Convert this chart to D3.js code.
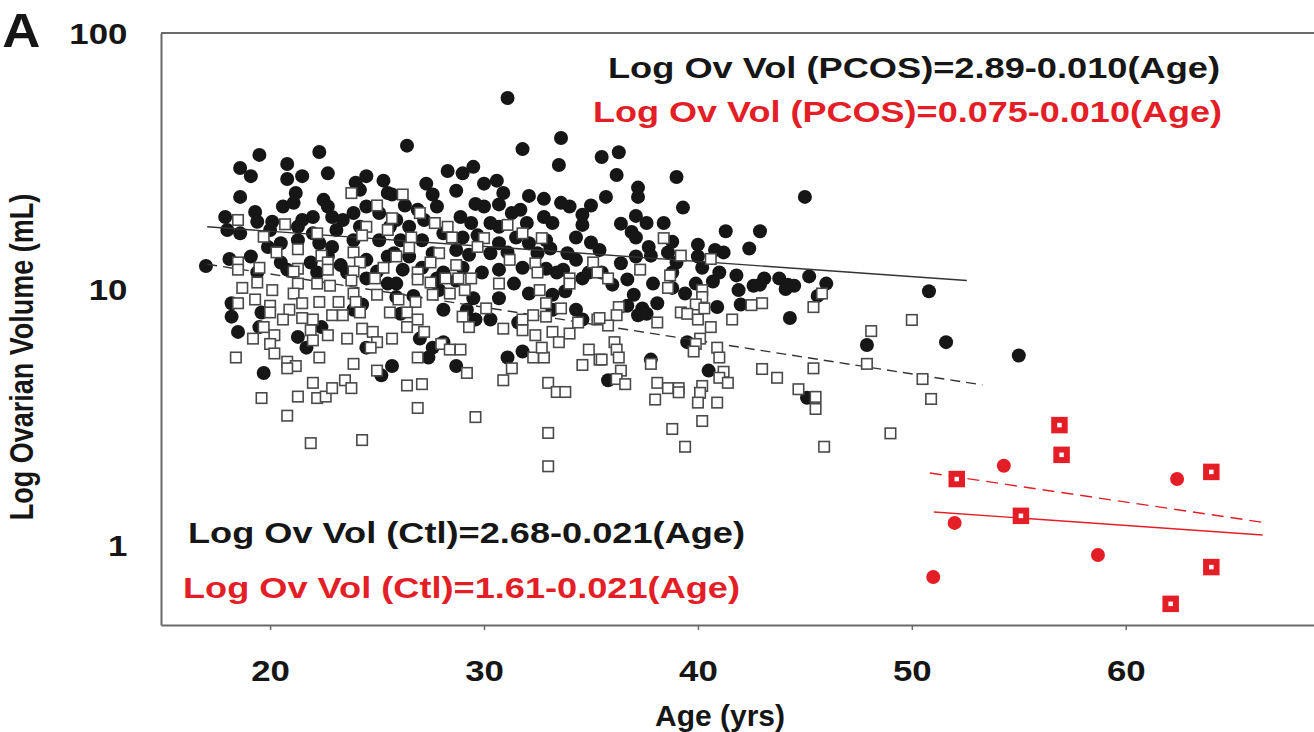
<!DOCTYPE html>
<html>
<head>
<meta charset="utf-8">
<script src="https://cdn.jsdelivr.net/npm/d3@7"></script>
<style>
  body { margin: 0; background: #fff; }
  svg { display: block; font-family: "Liberation Sans", Arial, sans-serif; font-weight: bold; }
</style>
</head>
<body>
<div id="chart"></div>
<script>
// ---- data: [age (yrs), ovarian volume (mL)] ----

// PCOS (filled circles)
var pcosPts = [
  [19.5,33.4],[22.3,34.3],[18.6,29.7],[19.1,27.6],[20.8,30.8],[20.8,26.9],[21.5,27.6],[22.7,28.3],[18.6,22.9],[21.2,23.7],
  [24.5,27.6],[25.3,26.5],[24.0,26.0],[24.2,24.4],[25.5,23.7],[22.5,22.3],[22.7,21.0],[20.6,21.0],[21.1,21.7],[19.3,20.0],
  [17.9,19.1],[19.4,18.3],[20.1,18.3],[21.5,18.6],[22.0,19.1],[22.9,19.1],[23.4,18.6],[23.9,19.8],[24.5,21.0],[25.1,19.8],
  [18.0,17.0],[18.6,16.5],[20.0,17.0],[21.3,17.5],[22.0,16.5],[23.1,17.0],[24.2,17.5],[25.6,17.5],[19.9,14.6],[20.5,15.1],
  [21.3,15.5],[22.3,15.1],[22.9,14.6],[23.9,15.5],[25.1,15.5],[17.0,12.3],[18.1,13.1],[19.1,13.4],[20.5,12.7],[21.9,12.7],
  [22.7,13.4],[23.3,12.4],[24.5,13.0],[25.5,13.4],[19.4,11.6],[20.8,11.9],[22.2,11.6],[23.6,11.6],[25.0,11.7],
  [24.5,11.0],[25.5,10.5],[25.9,9.3],[18.2,8.8],[18.2,7.8],[19.6,8.1],[18.5,6.8],[19.5,7.1],[21.3,6.5],[21.7,5.9],
  [22.4,7.1],[23.9,8.3],[24.3,8.7],[24.5,5.9],[19.7,4.7],[25.7,5.0],[25.2,4.6],[26.1,8.0],
  [31.1,55.7],[26.4,36.3],[31.8,35.2],[33.6,38.9],[33.5,30.5],[35.5,32.8],[28.3,28.9],[29.0,28.3],[29.5,30.0],[27.3,25.8],
  [27.6,23.4],[28.7,24.2],[30.0,25.8],[30.6,26.5],[30.9,23.7],[32.1,23.1],[32.8,22.5],[33.6,21.7],[34.0,21.0],[35.0,21.2],
  [35.7,22.9],[25.7,23.4],[26.3,21.2],[26.9,20.4],[27.8,21.0],[29.6,21.5],[30.0,21.0],[30.7,21.4],[31.3,19.8],[31.7,20.4],
  [34.6,19.5],[25.9,18.6],[26.5,17.5],[27.2,18.6],[28.9,19.1],[29.4,18.1],[30.3,18.1],[30.7,17.5],[32.0,18.1],[32.8,19.1],
  [33.2,18.1],[34.6,17.8],[35.0,15.2],[35.4,14.2],[26.1,15.5],[27.1,15.5],[28.1,16.5],[29.0,15.9],[29.7,16.2],[30.7,15.1],
  [31.5,15.9],[32.1,15.1],[32.9,15.5],[34.3,15.9],[25.8,13.8],[26.5,13.4],[27.6,13.8],[28.7,14.2],[29.3,13.6],[30.3,13.8],
  [31.1,13.9],[32.5,13.8],[33.1,14.4],[33.9,13.8],[34.3,13.0],[26.2,11.9],[27.1,12.1],[28.1,11.6],[29.0,12.1],[29.9,11.6],
  [30.7,11.9],[31.8,12.1],[32.9,12.0],[33.7,11.9],[34.9,11.6],
  [25.9,10.5],[27.8,11.0],[28.7,10.8],[31.4,10.5],[32.1,9.6],[33.2,9.5],[33.8,9.8],[34.6,11.0],[33.4,11.6],[26.7,9.4],
  [27.9,9.9],[29.5,9.2],[30.7,9.2],[28.1,8.3],[29.2,8.3],[29.6,7.6],[30.3,7.6],[31.6,7.4],[33.2,8.3],[34.3,8.3],
  [34.6,7.6],[27.0,6.4],[28.1,6.2],[27.6,5.9],[27.4,5.4],[28.7,5.0],[31.1,5.4],[31.8,5.7],[35.8,4.4],
  [36.3,34.2],[36.2,27.9],[39.0,27.4],[37.2,24.9],[37.2,22.9],[45.0,22.9],[39.3,20.8],[37.1,19.3],[36.4,18.0],[37.6,18.1],
  [38.4,18.1],[36.9,16.7],[37.1,15.9],[41.3,16.8],[42.9,16.8],[38.8,15.3],[37.7,14.6],[40.0,14.9],[40.8,14.2],[41.2,13.9],
  [42.4,14.4],[38.6,13.9],[37.1,13.4],[37.8,13.5],[40.0,13.4],[39.0,12.7],[36.4,12.6],[40.2,12.1],[38.8,11.6],[41.0,11.6],
  [40.7,10.7],[41.8,11.3],[43.1,11.0],[43.8,11.0],[45.2,11.2],[35.5,11.6],[36.7,10.9],[36.0,10.4],[37.9,10.5],[38.8,10.1],
  [39.4,9.6],[39.9,10.5],[41.9,9.9],[42.6,10.3],[42.9,10.4],[44.2,10.4],[44.5,10.3],[44.1,10.0],[45.6,9.4],[37.0,9.5],
  [38.1,8.8],[36.7,8.6],[37.4,8.4],[37.2,7.9],[37.6,8.0],[40.9,8.5],[42.0,8.7],[44.3,7.7],[39.5,6.2],
  [37.8,5.3],[40.5,4.8],[45.1,3.76],[46.0,10.5],[50.8,9.8],[47.9,6.04],[51.6,6.2],[55.0,5.5]
];

// Controls (open squares)
var ctlPts = [
  [18.5,18.6],[20.7,17.9],[19.7,16.0],[22.2,16.5],[23.8,23.7],[25.0,21.2],[24.5,17.5],[25.7,18.9],[25.5,17.0],[24.3,16.2],
  [21.3,14.3],[20.3,13.9],[22.4,13.5],[23.9,13.9],[18.5,12.7],[19.5,12.1],[21.3,12.0],[22.7,12.7],[24.2,12.7],[25.3,12.1],
  [18.5,11.9],[22.7,11.9],[23.9,11.7],
  [21.1,11.7],[24.9,11.0],[18.7,10.1],[19.4,10.6],[20.1,9.9],[21.3,10.5],[21.1,9.6],[22.2,10.5],[22.8,10.3],[23.8,10.8],
  [23.9,9.6],[25.0,9.5],[19.3,9.1],[20.0,8.6],[20.9,8.3],[21.5,8.8],[22.3,8.9],[23.2,8.9],[24.0,8.9],[18.5,8.8],
  [20.0,8.1],[20.6,7.6],[21.5,7.7],[22.0,7.6],[22.9,7.9],[23.4,7.9],[24.2,8.1],[25.6,8.1],[19.7,7.1],[20.2,6.6],
  [19.2,6.4],[20.0,6.1],[21.9,6.9],[22.0,6.3],[22.7,6.6],[23.6,6.4],[24.3,7.0],[24.8,6.8],[25.0,6.2],[25.7,6.4],
  [24.7,5.9],[18.4,5.4],[20.2,5.6],[20.8,5.2],[21.2,5.0],[20.8,4.9],[22.3,5.4],[23.9,5.1],[25.0,4.8],[22.0,4.3],
  [19.6,3.75],[21.3,3.8],[22.2,3.75],[22.6,3.8],[22.9,4.1],[23.5,4.4],[23.8,4.1],[20.8,3.2],[21.9,2.5],[24.3,2.57],
  [26.2,23.4],[27.0,19.8],[27.7,18.1],[28.3,17.5],[26.6,15.9],[28.5,15.9],[31.1,17.8],[31.8,16.5],[30.0,15.8],[32.7,15.8],
  [26.5,14.5],[27.9,13.8],[29.7,14.6],[31.2,13.0],[25.9,13.4],[27.5,12.7],[28.7,12.4],[32.4,12.6],[35.1,12.7],[34.0,11.0],
  [32.5,11.6],[26.9,11.6],
  [26.9,10.9],[27.5,10.6],[28.2,11.0],[28.8,11.0],[29.4,11.0],[30.7,10.5],[34.0,10.5],[35.3,11.6],[32.6,9.9],[26.0,9.1],
  [26.8,8.9],[27.6,9.5],[28.4,9.6],[29.1,9.9],[32.9,8.8],[33.6,8.4],[26.4,8.1],[26.9,7.6],[26.4,7.1],[27.2,6.8],
  [29.0,7.8],[29.3,7.1],[30.1,8.4],[30.9,7.0],[31.8,7.6],[31.8,6.9],[32.3,7.9],[32.9,7.8],[34.4,7.4],[35.3,7.6],
  [32.4,6.6],[33.2,6.8],[34.0,6.7],[33.5,6.2],[28.0,6.1],[28.4,5.8],[28.9,5.8],[26.9,5.4],[29.2,4.7],[31.3,4.9],
  [32.3,5.4],[32.8,5.4],[32.7,5.9],[34.9,5.8],[35.4,5.3],[34.6,5.05],[26.4,4.2],[27.1,4.25],[30.9,4.4],[33.0,4.3],
  [33.4,3.96],[33.8,3.96],[26.9,3.43],[29.6,3.16],[33.0,2.74],[33.0,2.03],
  [38.4,15.8],[39.2,13.5],[40.6,13.1],[37.3,11.9],[38.7,11.3],[35.8,11.0],[38.6,10.1],[40.2,9.9],[40.2,9.3],[36.3,8.5],
  [39.9,8.7],[40.3,8.4],[42.5,8.65],[43.0,8.8],[45.4,8.5],[36.2,7.9],[39.2,8.1],[39.5,8.0],[40.0,7.6],[40.6,7.1],
  [41.6,7.6],[38.1,7.4],[35.8,7.2],[35.4,7.7],[40.1,6.4],[36.1,6.2],[40.9,5.9],
  [39.9,6.1],[39.8,5.7],[41.0,5.4],[36.2,5.8],[36.3,5.4],[35.5,5.3],[37.8,5.1],[36.4,4.8],[36.2,4.45],[36.6,4.25],
  [41.2,4.75],[41.0,4.5],[41.4,4.3],[38.1,4.3],[38.6,4.1],[39.1,4.1],[39.1,3.95],[40.2,4.18],[40.1,3.93],[40.0,3.6],
  [40.9,3.6],[38.0,3.7],[40.2,3.05],[38.8,2.84],[39.4,2.42],[43.0,4.87],[43.7,4.5],[45.4,4.9],[44.7,4.06],[45.5,3.79],
  [45.5,3.4],[45.9,2.42],
  [45.8,9.6],[50.0,7.57],[48.1,6.85],[47.9,5.1],[50.5,4.45],[50.9,3.72],[49.0,2.73]
];

// red (older) groups
var pcosRedPts = [[54.3,2.04],[62.4,1.81],[52.0,1.22],[58.7,0.914],[51.0,0.75]];
var ctlRedPts = [[56.9,2.94],[57.0,2.25],[52.1,1.81],[64.0,1.93],[55.1,1.30],[64.0,0.82],[62.1,0.589]];

// fitted lines (end points)
var pcosFit = [[17.06,17.5],[52.57,10.8]];
var ctlFit = [[17.06,12.5],[53.3,4.22]];
var pcosRedFit = [[51.03,1.346],[66.4,1.094]];
var ctlRedFit = [[50.84,1.91],[66.59,1.22]];

var xTicks = [20, 30, 40, 50, 60];
var yTicks = [1, 10, 100];

var eqLabels = [
  "Log Ov Vol (PCOS)=2.89-0.010(Age)",
  "Log Ov Vol (PCOS)=0.075-0.010(Age)",
  "Log Ov Vol (Ctl)=2.68-0.021(Age)",
  "Log Ov Vol (Ctl)=1.61-0.021(Age)"
];

// ---- drawing ----
var W = 1314, H = 732;
var RED = "#e41e26", INK = "#161616", AXIS = "#6a6a6a";
var STRETCH = 1.2; // figure text is horizontally widened

var svg = d3.select("#chart").append("svg")
    .attr("width", W)
    .attr("height", H);

var x = d3.scaleLinear().domain([14.9, 68.8]).range([161, 1314]);
var y = d3.scaleLog().domain([0.487, 100]).range([625, 33]);

// frame: top line
svg.append("line")
    .attr("x1", x(14.9)).attr("x2", x(68.8))
    .attr("y1", y(100)).attr("y2", y(100))
    .attr("stroke", AXIS).attr("stroke-width", 2);

// x axis
var xAxis = svg.append("g")
    .attr("transform", "translate(0," + y(0.487) + ")")
    .call(d3.axisBottom(x).tickValues(xTicks).tickSize(5).tickSizeOuter(0).tickPadding(30)
        .tickFormat(d3.format("d")));

// y axis
var yAxis = svg.append("g")
    .attr("transform", "translate(" + x(14.9) + ",0)")
    .call(d3.axisLeft(y).tickValues(yTicks).tickSize(0).tickSizeOuter(0).tickPadding(28)
        .tickFormat(d3.format("d")));

[xAxis, yAxis].forEach(function(g) {
    g.select(".domain").attr("stroke", AXIS).attr("stroke-width", 2);
    g.selectAll(".tick line").attr("stroke", AXIS).attr("stroke-width", 1.5);
    g.selectAll(".tick text")
        .attr("fill", INK)
        .style("font-size", "29px")
        .style("font-weight", "bold")
        .style("font-family", "'Liberation Sans', Arial, sans-serif")
        .attr("transform", "scale(" + STRETCH + ",1)");
});
yAxis.selectAll(".tick text").attr("dy", "0.36em");

// fitted lines
var lineGen = d3.line()
    .x(function(d) { return x(d[0]); })
    .y(function(d) { return y(d[1]); });

var fits = [
    { pts: pcosFit, color: "#333", dash: null },
    { pts: ctlFit, color: "#333", dash: "10,6" },
    { pts: pcosRedFit, color: RED, dash: null },
    { pts: ctlRedFit, color: RED, dash: "12,7" }
];

// points: circles first, then squares on top
svg.append("g").selectAll("circle.pcos")
    .data(pcosPts)
    .enter().append("circle")
    .attr("class", "pcos")
    .attr("cx", function(d) { return x(d[0]); })
    .attr("cy", function(d) { return y(d[1]); })
    .attr("r", 7)
    .attr("fill", INK);

svg.append("g").selectAll("path.fit")
    .data(fits)
    .enter().append("path")
    .attr("class", "fit")
    .attr("d", function(d) { return lineGen(d.pts); })
    .attr("fill", "none")
    .attr("stroke", function(d) { return d.color; })
    .attr("stroke-width", 1.4)
    .attr("stroke-dasharray", function(d) { return d.dash; });

var sq = 10.5;
svg.append("g").selectAll("rect.ctl")
    .data(ctlPts)
    .enter().append("rect")
    .attr("class", "ctl")
    .attr("x", function(d) { return x(d[0]) - sq / 2; })
    .attr("y", function(d) { return y(d[1]) - sq / 2; })
    .attr("width", sq).attr("height", sq)
    .attr("fill", "#fff")
    .attr("stroke", "#4a4a4a")
    .attr("stroke-width", 1.6);

svg.append("g").selectAll("circle.pcosRed")
    .data(pcosRedPts)
    .enter().append("circle")
    .attr("cx", function(d) { return x(d[0]); })
    .attr("cy", function(d) { return y(d[1]); })
    .attr("r", 7)
    .attr("fill", RED);

var rsq = 10.5;
svg.append("g").selectAll("rect.ctlRed")
    .data(ctlRedPts)
    .enter().append("rect")
    .attr("x", function(d) { return x(d[0]) - rsq / 2; })
    .attr("y", function(d) { return y(d[1]) - rsq / 2; })
    .attr("width", rsq).attr("height", rsq)
    .attr("fill", "#fff")
    .attr("stroke", RED)
    .attr("stroke-width", 6);

// equation labels
var eqPos = [
    { x: 608, y: 78, w: 612, c: INK },
    { x: 593, y: 122, w: 629, c: RED },
    { x: 188, y: 543, w: 557, c: INK },
    { x: 183, y: 598, w: 557, c: RED }
];
svg.append("g").selectAll("text.eq")
    .data(eqLabels)
    .enter().append("text")
    .attr("class", "eq")
    .attr("x", function(d, i) { return eqPos[i].x; })
    .attr("y", function(d, i) { return eqPos[i].y; })
    .attr("textLength", function(d, i) { return eqPos[i].w; })
    .attr("lengthAdjust", "spacingAndGlyphs")
    .attr("fill", function(d, i) { return eqPos[i].c; })
    .style("font-size", "29px")
    .text(function(d) { return d; });

// axis titles
svg.append("text")
    .attr("x", 720).attr("y", 726)
    .attr("text-anchor", "middle")
    .attr("fill", INK)
    .attr("textLength", 130)
    .attr("lengthAdjust", "spacingAndGlyphs")
    .style("font-size", "29px")
    .text("Age (yrs)");

svg.append("text")
    .attr("transform", "translate(33,357) rotate(-90) scale(1," + STRETCH + ")")
    .attr("text-anchor", "middle")
    .attr("fill", INK)
    .style("font-size", "27px")
    .text("Log Ovarian Volume (mL)");

// panel letter
svg.append("text")
    .attr("x", 2).attr("y", 47)
    .attr("fill", INK)
    .attr("transform", "scale(1.1,1)")
    .style("font-size", "48px")
    .text("A");
</script>
</body>
</html>
